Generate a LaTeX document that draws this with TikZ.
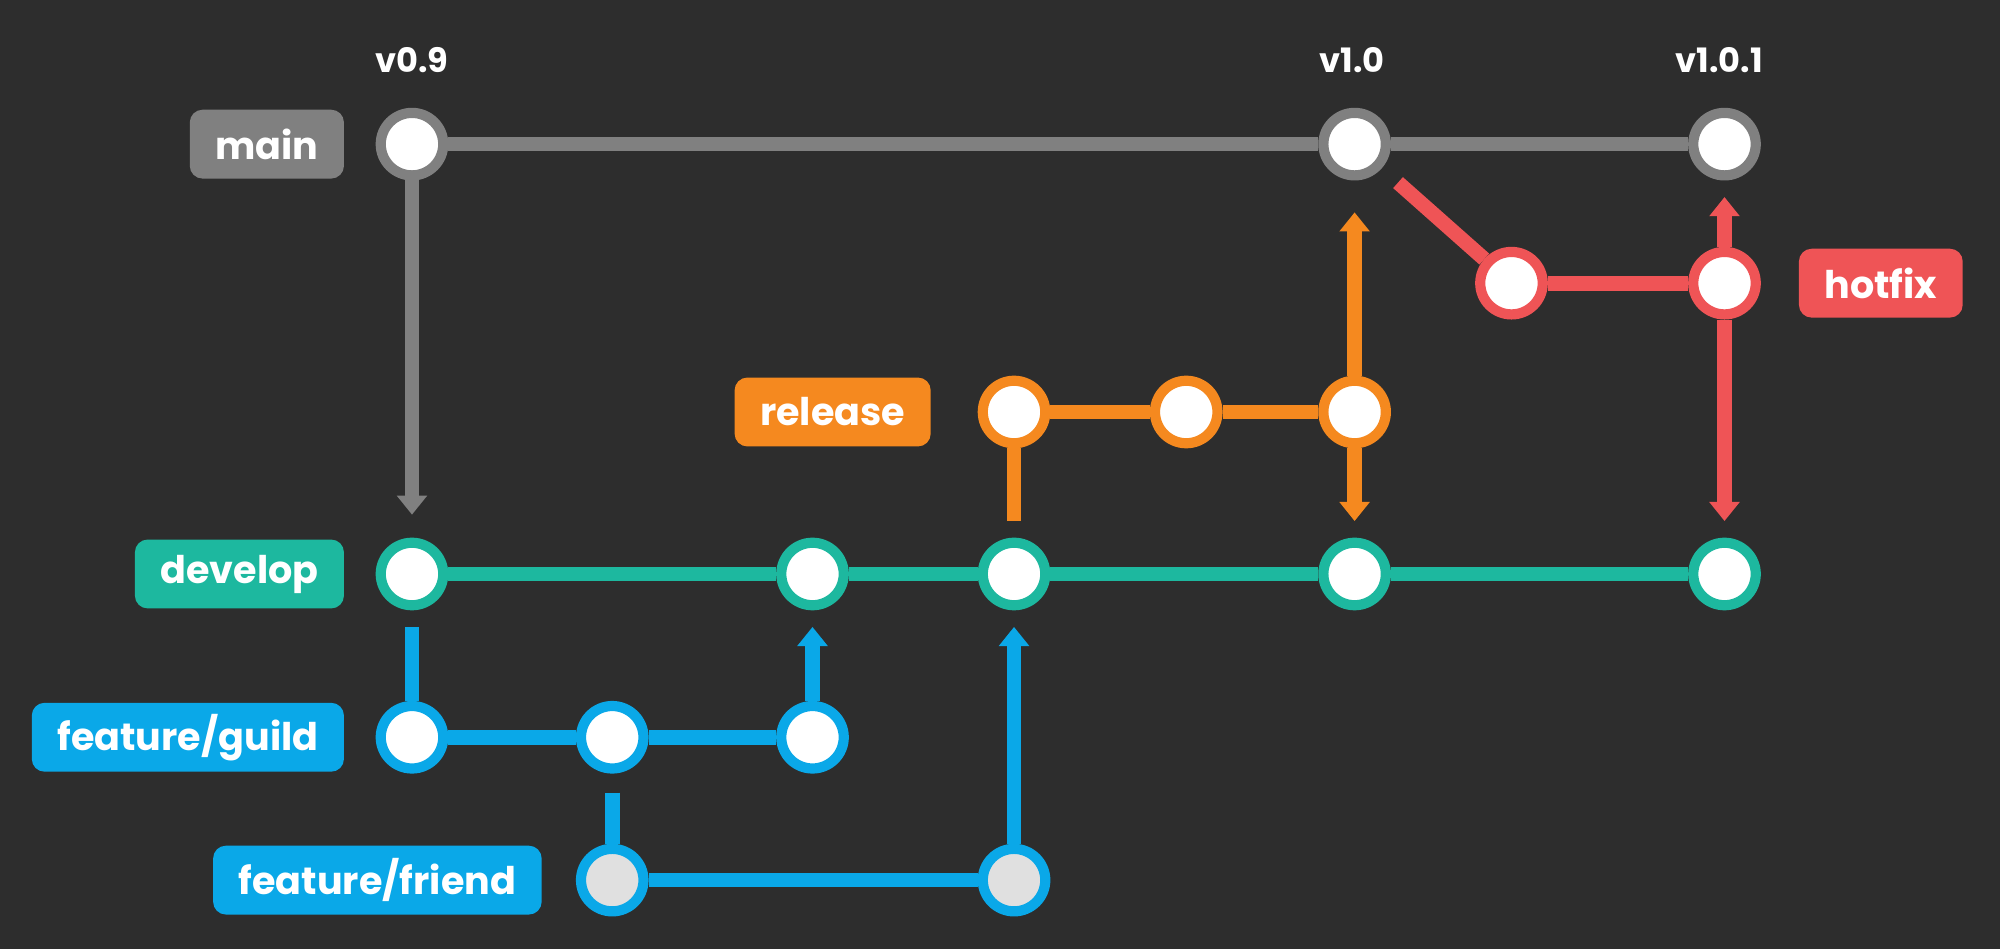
\documentclass[tikz,border=0pt]{standalone}
\usepackage{fontspec}
\setmainfont{Poppins}
\usetikzlibrary{arrows.meta}
\definecolor{bg}{HTML}{2D2D2D}
\definecolor{cgray}{HTML}{808080}
\definecolor{cteal}{HTML}{1DB89F}
\definecolor{cblue}{HTML}{0AA8E8}
\definecolor{corange}{HTML}{F5891F}
\definecolor{cred}{HTML}{EF5456}
\begin{document}
\begin{tikzpicture}[x=0.02cm,y=-0.02cm,
  cm/.style={circle,fill=white,draw=#1,line width=0.16cm,minimum size=0.98cm,inner sep=0pt},
  lbl/.style={rounded corners=0.2cm,fill=#1,text=white,font=\bfseries\fontsize{17}{17}\selectfont,minimum height=1.08cm,inner xsep=0.4cm},
  tag/.style={text=white,font=\bfseries\fontsize{15}{15}\selectfont},
  ln/.style={draw=#1,line width=0.23cm},
  tip/.style={-{Triangle[width=0.46cm,length=0.3cm]}}]
\fill[bg] (0,0) rectangle (1568,744);
\useasboundingbox (0,0) rectangle (1568,744);
% labels
\node[lbl=cgray,anchor=east] (lmain) at (270,113) {main};
\node[lbl=cteal,anchor=east] (ldev) at (270,450) {develop};
\node[lbl=cblue,anchor=east] (lguild) at (270,578) {feature/guild};
\node[lbl=cblue,anchor=east] (lfriend) at (425,690) {feature/friend};
\node[lbl=corange,anchor=east] (lrel) at (730,323) {release};
\node[lbl=cred,anchor=west] (lhot) at (1410,222) {hotfix};
\node[tag] (t1) at (323,47) {v0.9};
\node[tag] (t2) at (1060,47) {v1.0};
\node[tag] (t3) at (1348,47) {v1.0.1};
% nodes
\node[cm=cgray] (m1) at (323,113) {};
\node[cm=cgray] (m2) at (1062,113) {};
\node[cm=cgray] (m3) at (1352,113) {};
\node[cm=cred] (h1) at (1185,222) {};
\node[cm=cred] (h2) at (1352,222) {};
\node[cm=corange] (r1) at (795,323) {};
\node[cm=corange] (r2) at (930,323) {};
\node[cm=corange] (r3) at (1062,323) {};
\node[cm=cteal] (d1) at (323,450) {};
\node[cm=cteal] (d2) at (637,450) {};
\node[cm=cteal] (d3) at (795,450) {};
\node[cm=cteal] (d4) at (1062,450) {};
\node[cm=cteal] (d5) at (1352,450) {};
\node[cm=cblue] (g1) at (323,578) {};
\node[cm=cblue] (g2) at (480,578) {};
\node[cm=cblue] (g3) at (637,578) {};
\node[cm=cblue,fill=white!88!black] (f1) at (480,690) {};
\node[cm=cblue,fill=white!88!black] (f2) at (795,690) {};
% connectors
\draw[ln=cgray] (m1) -- (m2); \draw[ln=cgray] (m2) -- (m3);
\draw[ln=cgray,tip,shorten >=0.36cm] (m1) -- (d1);
\draw[ln=cteal] (d1) -- (d2); \draw[ln=cteal] (d2) -- (d3); \draw[ln=cteal] (d3) -- (d4); \draw[ln=cteal] (d4) -- (d5);
\draw[ln=cblue,shorten <=0.26cm] (d1) -- (g1);
\draw[ln=cblue] (g1) -- (g2); \draw[ln=cblue] (g2) -- (g3);
\draw[ln=cblue,tip,shorten >=0.26cm] (g3) -- (d2);
\draw[ln=cblue,shorten <=0.3cm] (g2) -- (f1);
\draw[ln=cblue] (f1) -- (f2);
\draw[ln=cblue,tip,shorten >=0.26cm] (f2) -- (d3);
\draw[ln=corange,shorten <=0.26cm] (d3) -- (r1);
\draw[ln=corange] (r1) -- (r2); \draw[ln=corange] (r2) -- (r3);
\draw[ln=corange,tip,shorten >=0.5cm] (r3) -- (m2);
\draw[ln=corange,tip,shorten >=0.26cm] (r3) -- (d4);
\draw[ln=cred,shorten <=0.34cm] (m2) -- (h1);
\draw[ln=cred] (h1) -- (h2);
\draw[ln=cred,tip,shorten >=0.26cm] (h2) -- (m3);
\draw[ln=cred,tip,shorten >=0.26cm] (h2) -- (d5);
\end{tikzpicture}
\end{document}
